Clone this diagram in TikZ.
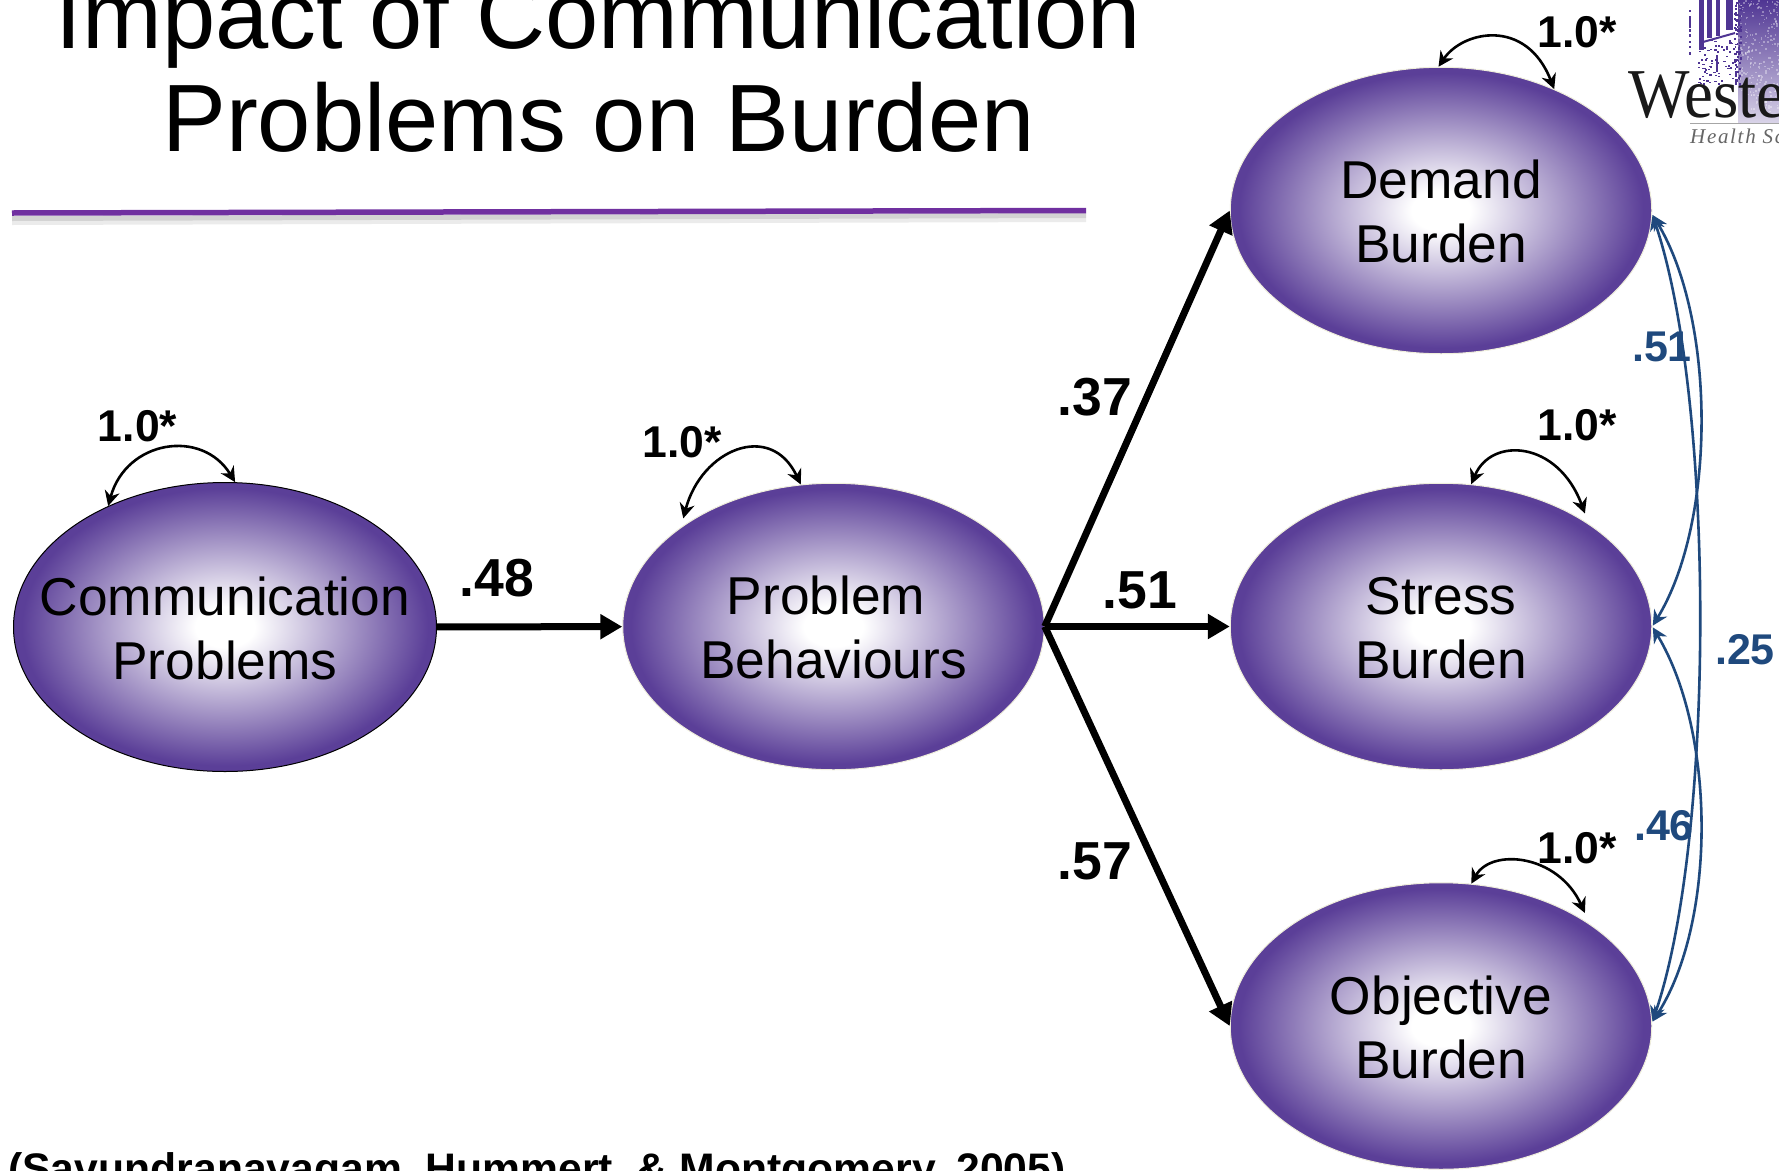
\documentclass[tikz,border=0pt]{standalone}
\usepackage{fontspec}
\setmainfont{Liberation Sans}
\newfontfamily\logofont{Liberation Serif}
\usetikzlibrary{shapes.geometric,arrows.meta,calc}
\definecolor{ovalpurple}{HTML}{5B3F98}
\definecolor{logopurple}{HTML}{4F3593}
\definecolor{rulepurple}{HTML}{7030A0}
\definecolor{corrblue}{HTML}{1F497D}
\pgfdeclareradialshading{ovalshade}{\pgfpoint{0bp}{0bp}}{color(0bp)=(white); color(3.5bp)=(white); color(24bp)=(ovalpurple); color(50bp)=(ovalpurple)}
\newcommand{\twolines}[2]{\makebox[0pt]{\raisebox{12pt}[0pt][0pt]{#1}}\makebox[0pt]{\raisebox{-52pt}[0pt][0pt]{#2}}}
\tikzset{
  ovalnode/.style={ellipse,inner sep=0pt,minimum width=421.5pt,minimum height=286.5pt,
    shading=ovalshade,draw=#1,line width=1pt,
    font=\fontsize{53.3}{64}\selectfont},
  ovalnode/.default={black!8!white!92!yellow},
  weight/.style={anchor=base,font=\fontsize{53.5}{60}\selectfont\bfseries},
  varlabel/.style={anchor=base,font=\fontsize{44.5}{50}\selectfont\bfseries},
  corrlabel/.style={anchor=base,text=corrblue,font=\fontsize{43}{50}\selectfont\bfseries},
  pathline/.style={line width=7pt,-{Triangle[length=22pt,width=24pt]}},
  selfloop/.style={line width=2.6pt,{Stealth[length=15pt,width=15pt]}-{Stealth[length=15pt,width=15pt]}},
  corrline/.style={corrblue,line width=2.6pt,{Stealth[length=15pt,width=15pt]}-{Stealth[length=15pt,width=15pt]},shorten <=1pt,shorten >=1pt},
}
\begin{document}
\begin{tikzpicture}[x=1pt,y=-1pt]
\useasboundingbox (0,0) rectangle (1779,1170);
\fill[white] (0,0) rectangle (1779,1170);
% logo
\begin{scope}
  \clip (1685,0) rectangle (1779,130);
  \shade[top color=logopurple,middle color=logopurple!80!white,bottom color=logopurple!22!white] (1738,0) rectangle (1779,122);
  \pgfmathsetseed{4242}
  \foreach \i in {1,...,260}{
    \pgfmathsetmacro{\dx}{1738+rnd*42}
    \pgfmathsetmacro{\dy}{rnd*112}
    \fill[white,opacity=.35] (\dx,\dy) rectangle ++(1.6,1.6);
  }
  \foreach \i in {1,...,90}{
    \pgfmathsetmacro{\dx}{1734+rnd*6}
    \pgfmathsetmacro{\dy}{rnd*85}
    \fill[logopurple] (\dx,\dy) rectangle ++(1.8,2);
  }
  \foreach \i in {1,...,70}{
    \pgfmathsetmacro{\dx}{1697+rnd*38}
    \pgfmathsetmacro{\dy}{38+rnd*46}
    \fill[logopurple] (\dx,\dy) rectangle ++(2.2,1.5);
  }
  \foreach \i in {1,...,14}{
    \pgfmathsetmacro{\dy}{rnd*55}
    \fill[logopurple] (1689,\dy) rectangle ++(2.4,2.6);
  }
  \fill[logopurple] (1699,0) rectangle (1704,50);
  \fill[logopurple] (1707,0) rectangle (1712,38);
  \fill[logopurple] (1716,0) rectangle (1720,36);
  \fill[logopurple] (1726,0) rectangle (1733,30);
  \draw[logopurple,line width=2pt] (1703,42) -- (1735,33);
  \draw[logopurple,line width=2.5pt] (1717,55) -- (1717,72);
\end{scope}
\node[anchor=base west,inner sep=0pt,text=black!90] (logoname) at (1628,117)
  {\logofont\fontsize{70}{70}\selectfont\scalebox{.93}[1]{Weste}};
\fill[black!35] (1690,122.5) rectangle (1779,124);
\node[anchor=base west,inner sep=0pt,text=black!60] (logosub) at (1690,143)
  {\logofont\itshape\fontsize{21}{24}\selectfont\addfontfeature{LetterSpace=8}Health Sc};
% title
\node[inner sep=0pt,anchor=base] (title) at (598.5,151)
  {\fontsize{95.7}{103}\selectfont\makebox[0pt]{\raisebox{103pt}[0pt][0pt]{Impact of Communication}}\makebox[0pt]{Problems on Burden}};
\fill[black,opacity=.08] (12,216) -- (1086,213) -- (1086,222) -- (12,225) -- cycle;
\fill[black,opacity=.10] (12,216) -- (1086,213) -- (1086,218) -- (12,221) -- cycle;
\coordinate (ruleL) at (12,213);
\coordinate (ruleR) at (1086,210.5);
\draw[rulepurple,line width=5.5pt] (ruleL) -- (ruleR);
% variables
\node[ovalnode=black,minimum width=423pt,minimum height=289pt] (comm) at (225,627) {\twolines{Communication}{Problems}};
\node[ovalnode] (prob) at (833.5,626.5) {\twolines{Problem\hspace{15pt}}{Behaviours}};
\node[ovalnode] (demand) at (1441,210.5) {\twolines{Demand}{Burden}};
\node[ovalnode] (stress) at (1441,626.5) {\twolines{Stress}{Burden}};
\node[ovalnode] (objective) at (1441,1026) {\twolines{Objective}{Burden}};
% paths
\draw[pathline] (comm) -- (prob);
\draw[pathline] (prob.east) -- (demand.west);
\draw[pathline] (prob.east) -- (stress.west);
\draw[pathline] (prob.east) -- (objective.west);
% self loops
\draw[selfloop] (comm.134.5) .. controls +(18,-66) and +(-33,-54) .. (comm.86.6);
\draw[selfloop] ($(prob.145)+(-3,-5)$) .. controls +(18,-69) and +(-30,-64) .. (prob.103);
\draw[selfloop] (demand.91) .. controls +(24,-36) and +(-28,-72) .. (demand.47.8);
\draw[selfloop] (stress.78.7) .. controls +(20,-48) and +(-27,-73) .. ($(stress.39.6)+(8,-3)$);
\draw[selfloop] (objective.78.8) .. controls +(20,-36) and +(-27,-59) .. ($(objective.39.2)+(8,-3)$);
% correlations
\draw[corrline] (demand.-1) .. controls +(63,186) and +(63,-185) .. (objective.1);
\draw[corrline] (demand.-1) .. controls +(64,106) and +(64,-105) .. (stress.0);
\draw[corrline] (stress.-0.5) .. controls +(64,107) and +(64,-100) .. (objective.1);
% labels
\node[varlabel] (v1) at (137.5,441) {1.0*};
\node[varlabel] (v2) at (682,457) {1.0*};
\node[varlabel] (v3) at (1577,47) {1.0*};
\node[varlabel] (v4) at (1577,440) {1.0*};
\node[varlabel] (v5) at (1577,863) {1.0*};
\node[weight] (w1) at (497,596.5) {.48};
\node[weight] (w2) at (1095,415.5) {.37};
\node[weight] (w3) at (1140,608.5) {.51};
\node[weight] (w4) at (1095,879.5) {.57};
\node[corrlabel] (c1) at (1662,361) {.51};
\node[corrlabel] (c2) at (1745,664) {.25};
\node[corrlabel] (c3) at (1664,840) {.46};
\node[anchor=base west,inner sep=0pt] (cite) at (8,1183)
  {\fontsize{42.7}{46}\selectfont\bfseries (Savundranayagam, Hummert, \& Montgomery, 2005)};
\end{tikzpicture}
\end{document}
